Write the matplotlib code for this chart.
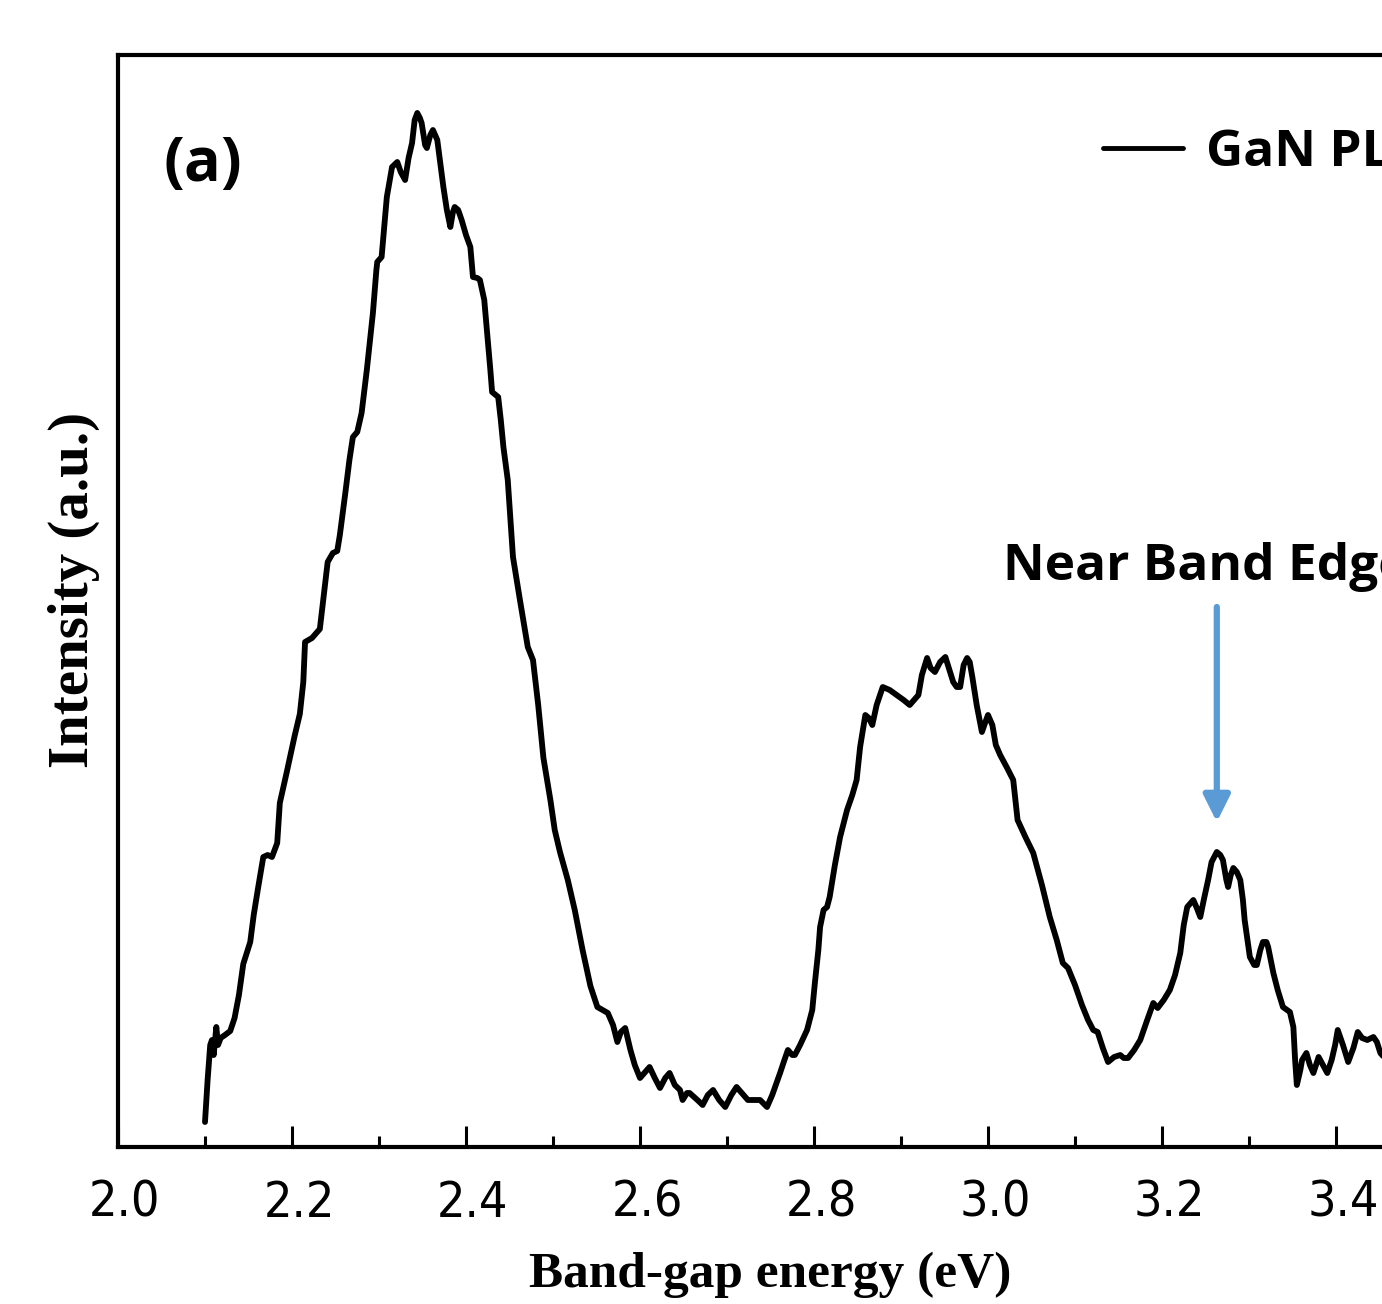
import matplotlib.pyplot as plt
from matplotlib.transforms import ScaledTranslation

# PL spectrum (energy in eV, intensity in a.u.)
energy = [
    2.100, 2.103, 2.106, 2.108, 2.110, 2.113, 2.115, 2.118, 2.123, 2.129,
    2.134, 2.139, 2.144, 2.152, 2.156, 2.161, 2.167, 2.172, 2.177, 2.183,
    2.186, 2.194, 2.203, 2.209, 2.213, 2.215, 2.223, 2.232, 2.238, 2.241,
    2.247, 2.252, 2.255, 2.261, 2.266, 2.270, 2.275, 2.280, 2.286, 2.293,
    2.297, 2.298, 2.303, 2.309, 2.315, 2.321, 2.325, 2.330, 2.334, 2.338,
    2.341, 2.344, 2.347, 2.349, 2.353, 2.355, 2.359, 2.362, 2.367, 2.370,
    2.374, 2.378, 2.382, 2.385, 2.387, 2.391, 2.395, 2.400, 2.405, 2.408,
    2.413, 2.416, 2.421, 2.424, 2.428, 2.430, 2.437, 2.440, 2.443, 2.448,
    2.454, 2.462, 2.471, 2.477, 2.483, 2.489, 2.497, 2.502, 2.508, 2.517,
    2.525, 2.534, 2.543, 2.551, 2.557, 2.563, 2.569, 2.574, 2.578, 2.583,
    2.589, 2.594, 2.600, 2.606, 2.611, 2.617, 2.623, 2.629, 2.634, 2.640,
    2.646, 2.649, 2.654, 2.657, 2.666, 2.672, 2.678, 2.684, 2.691, 2.698,
    2.705, 2.711, 2.717, 2.724, 2.731, 2.738, 2.746, 2.752, 2.761, 2.766,
    2.770, 2.775, 2.778, 2.784, 2.792, 2.798, 2.801, 2.805, 2.807, 2.811,
    2.815, 2.818, 2.824, 2.830, 2.838, 2.844, 2.849, 2.853, 2.859, 2.863,
    2.867, 2.872, 2.879, 2.887, 2.895, 2.903, 2.910, 2.915, 2.920, 2.924,
    2.930, 2.934, 2.939, 2.945, 2.951, 2.955, 2.960, 2.964, 2.968, 2.972,
    2.976, 2.979, 2.982, 2.987, 2.993, 2.997, 3.000, 3.005, 3.009, 3.014,
    3.022, 3.029, 3.034, 3.043, 3.052, 3.062, 3.071, 3.079, 3.086, 3.092,
    3.100, 3.108, 3.115, 3.121, 3.126, 3.132, 3.138, 3.145, 3.152, 3.156,
    3.161, 3.168, 3.175, 3.183, 3.190, 3.195, 3.202, 3.209, 3.215, 3.221,
    3.225, 3.229, 3.236, 3.240, 3.244, 3.248, 3.253, 3.257, 3.263, 3.267,
    3.270, 3.274, 3.276, 3.279, 3.282, 3.286, 3.290, 3.293, 3.295, 3.301,
    3.306, 3.309, 3.313, 3.316, 3.320, 3.322, 3.328, 3.333, 3.339, 3.347,
    3.351, 3.353, 3.355, 3.359, 3.361, 3.366, 3.370, 3.374, 3.377, 3.380,
    3.385, 3.390, 3.393, 3.395, 3.399, 3.402, 3.408, 3.414, 3.420, 3.425,
    3.430, 3.436, 3.443, 3.447, 3.451, 3.456,
]
intensity = [
    25, 67, 102, 107, 92, 120, 102, 109, 112, 116,
    129, 152, 183, 205, 232, 259, 290, 292, 290, 304,
    344, 375, 411, 433, 465, 505, 509, 518, 563, 585,
    594, 596, 612, 652, 687, 710, 715, 734, 777, 834,
    877, 885, 890, 950, 980, 985, 975, 967, 989, 1004,
    1027, 1034, 1029, 1024, 1002, 999, 1012, 1017, 1007, 987,
    960, 937, 920, 935, 940, 937, 927, 912, 900, 870,
    869, 867, 847, 817, 777, 755, 750, 727, 700, 667,
    590, 547, 500, 487, 442, 389, 347, 317, 295, 267,
    237, 197, 161, 140, 137, 134, 122, 105, 115, 119,
    97, 82, 69, 75, 80, 69, 59, 69, 74, 62,
    57, 47, 54, 54, 47, 42, 52, 57, 47, 40,
    52, 60, 54, 47, 47, 47, 40, 52, 74, 87,
    97, 92, 92, 102, 117, 137, 164, 197, 220, 237,
    240, 250, 282, 310, 337, 352, 367, 400, 432, 429,
    422, 442, 460, 457, 452, 447, 442, 447, 452, 472,
    489, 479, 475, 485, 490, 479, 465, 460, 460, 482,
    489, 485, 470, 442, 415, 425, 432, 422, 402, 392,
    379, 367, 327, 310, 294, 262, 230, 207, 184, 179,
    162, 142, 127, 117, 115, 99, 85, 90, 92, 89,
    89, 97, 107, 127, 144, 139, 147, 157, 172, 194,
    222, 240, 247, 239, 230, 247, 267, 285, 295, 292,
    287, 267, 260, 272, 279, 275, 267, 247, 227, 190,
    182, 182, 197, 205, 205, 200, 174, 157, 140, 135,
    120, 87, 62, 77, 87, 94, 82, 74, 82, 90,
    82, 74, 82, 87, 102, 117, 102, 85, 99, 115,
    109, 107, 110, 105, 94, 89,
]

major_ticks = [2.0, 2.2, 2.4, 2.6, 2.8, 3.0, 3.2, 3.4]
minor_ticks = [2.1, 2.3, 2.5, 2.7, 2.9, 3.1, 3.3]
tick_labels = ["2.0", "2.2", "2.4", "2.6", "2.8", "3.0", "3.2", "3.4"]

nbe_energy = 3.263  # where the "Near Band Edge" arrow points

W, H = 1382, 1304
fig = plt.figure(figsize=(W / 100, H / 100), dpi=100)
# axes run past the right edge of the figure, like the cropped original
ax = fig.add_axes([118 / W, 157 / H, 1305 / W, 1092 / H])

ax.plot(energy, intensity, color="black", lw=4.2, solid_joinstyle="round",
        solid_capstyle="round", label="GaN PL")

ax.set_xlim(2.0, 3.5)
ax.set_ylim(0, 1092)
ax.set_yticks([])
ax.set_xticks(major_ticks)
ax.set_xticklabels(tick_labels)
ax.set_xticks(minor_ticks, minor=True)
ax.tick_params(axis="x", which="major", direction="in", length=15, width=2.2,
               pad=23, labelsize=36)
ax.tick_params(axis="x", which="minor", direction="in", length=8, width=2.2)
for lab in ax.get_xticklabels():
    lab.set_family(["DejaVu Sans"])
    lab.set_stretch("condensed")
    lab.set_transform(lab.get_transform() + ScaledTranslation(0.07, 0, fig.dpi_scale_trans))

for s in ax.spines.values():
    s.set_linewidth(3)

ax.set_xlabel("Band-gap energy (eV)", family="Liberation Serif", fontweight="bold",
              fontsize=37, labelpad=18)
ax.set_ylabel("Intensity (a.u.)", family="Liberation Serif", fontweight="bold",
              fontsize=41, labelpad=10)
ax.yaxis.set_label_coords(-0.014, 0.51)

ax.text(163 / W, 1 - 165 / H, "(a)", transform=fig.transFigure, family="Open Sans",
        fontweight="bold", fontsize=44, ha="left", va="center")

leg = ax.legend(loc="center left", bbox_to_anchor=(1103 / W, 1 - 153 / H),
                bbox_transform=fig.transFigure, frameon=False, borderpad=0,
                borderaxespad=0, handlelength=1.55, handletextpad=0.45,
                prop={"family": "Open Sans", "weight": "bold", "size": 37})
leg.get_lines()[0].set_linewidth(3.5)

ax.text(1003 / W, 1 - 567 / H, "Near Band Edge", transform=fig.transFigure,
        family="Open Sans", fontweight="bold", fontsize=37, ha="left", va="center")
ax.annotate("", xy=(nbe_energy, 325), xytext=(nbe_energy, 540),
            arrowprops=dict(arrowstyle="-|>,head_length=1.6,head_width=0.8",
                            color="#5b9bd5", lw=4.5, shrinkA=0, shrinkB=0))

fig.savefig("out.png", dpi=100)
